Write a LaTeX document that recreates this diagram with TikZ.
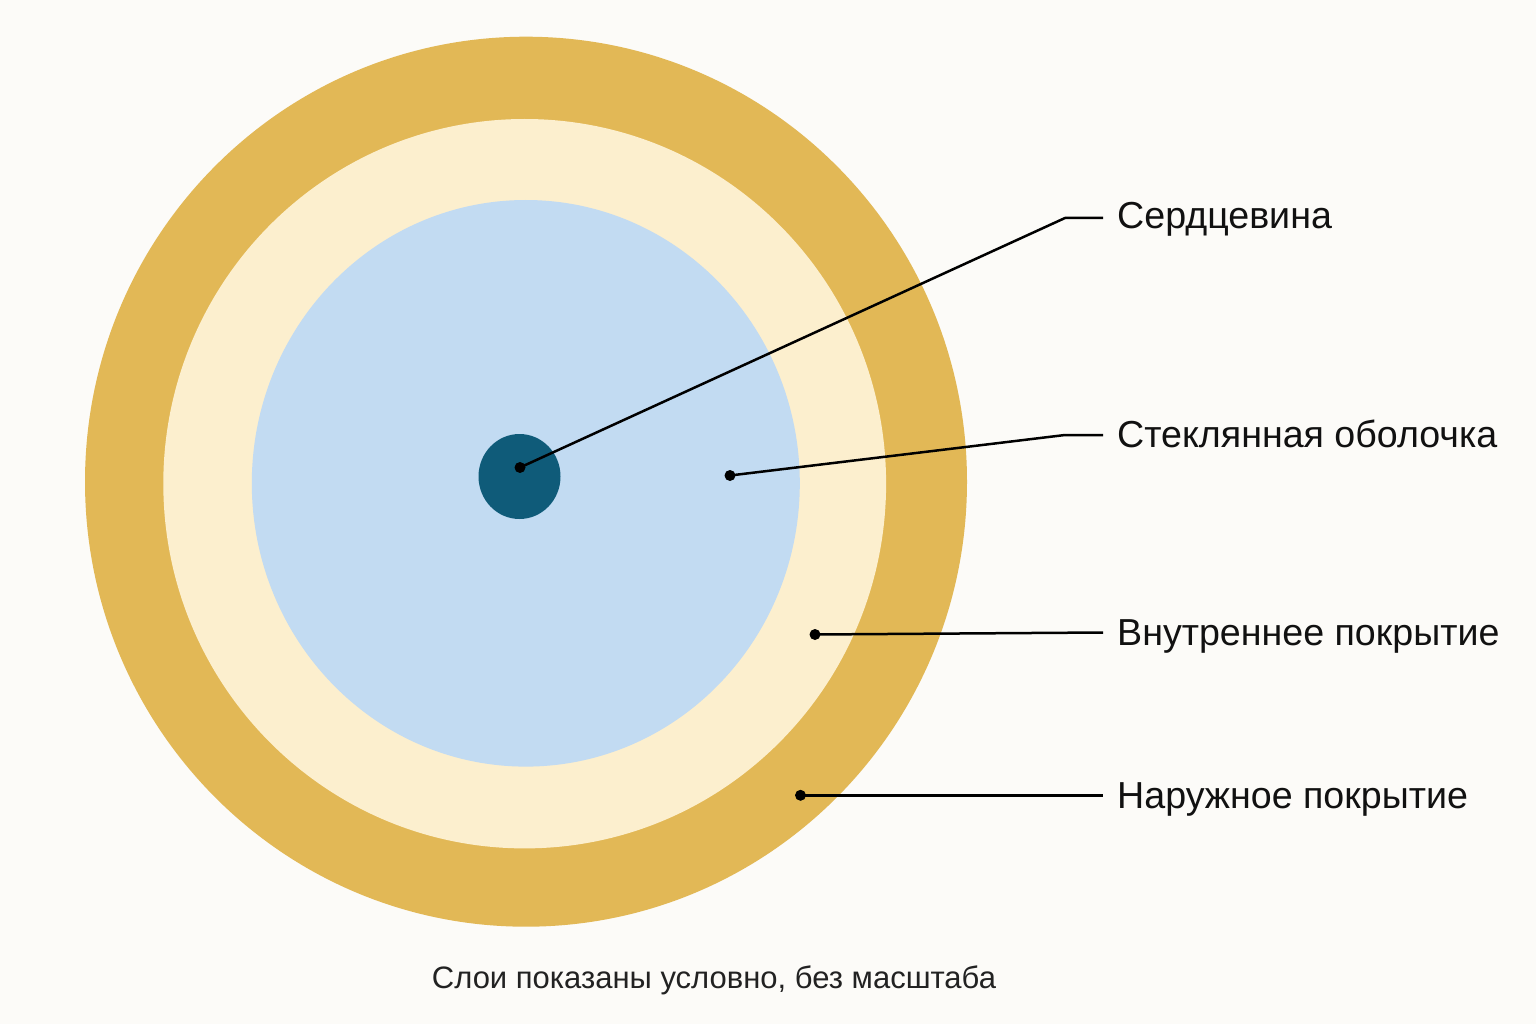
\documentclass[tikz,border=0pt]{standalone}
\usepackage{fontspec}
\setmainfont{Liberation Sans}
\definecolor{bgc}{HTML}{FCFBF8}
\definecolor{goldc}{HTML}{E2B856}
\definecolor{creamc}{HTML}{FCEFCE}
\definecolor{bluec}{HTML}{C2DBF2}
\definecolor{corec}{HTML}{0F5B79}
\definecolor{textc}{HTML}{111111}
\definecolor{capc}{HTML}{222222}
\tikzset{
  leader/.style={draw=black, line width=2.5pt, line join=round},
  dotmark/.style={fill=black},
  lbl/.style={anchor=base west, inner sep=0pt, text=textc, font=\fontsize{37.6}{44}\selectfont},
}
\begin{document}
\begin{tikzpicture}[x=1pt,y=-1pt]
\useasboundingbox (0,0) rectangle (1536,1024);
\fill[bgc] (0,0) rectangle (1536,1024);
% layers
\fill[goldc] (526,481.7) ellipse [x radius=441, y radius=445];
\fill[creamc] (524.7,483.7) ellipse [x radius=361.4, y radius=364.7];
\fill[bluec] (525.8,483.3) ellipse [x radius=274, y radius=283.3];
\fill[corec] (519.5,476.5) ellipse [x radius=41, y radius=42.5];
% anchor points
\coordinate (pcore) at (520,467.5);
\coordinate (pglass) at (730,475.5);
\coordinate (pinner) at (815,634.5);
\coordinate (pouter) at (800.5,795.3);
\coordinate (k1) at (1065,218);
\coordinate (k2) at (1065,435);
\coordinate (e1) at (1103,218);
\coordinate (e2) at (1103,435);
\coordinate (e3) at (1103,632.5);
\coordinate (e4) at (1103,795.3);
% leaders
\draw[leader] (pcore) -- (k1) -- (e1);
\draw[leader] (pglass) -- (k2) -- (e2);
\draw[leader] (pinner) -- (e3);
\draw[leader] (pouter) -- (e4);
\fill[dotmark] (pcore) circle (5.5);
\fill[dotmark] (pglass) circle (5.5);
\fill[dotmark] (pinner) circle (5.5);
\fill[dotmark] (pouter) circle (5.5);
% labels
\node[lbl] (l1) at (1117,229) {Сердцевина};
\node[lbl] (l2) at (1117,447) {Стеклянная оболочка};
\node[lbl] (l3) at (1117,645) {Внутреннее покрытие};
\node[lbl] (l4) at (1117,808) {Наружное покрытие};
% caption
\node[anchor=base, inner sep=0pt, text=capc, font=\fontsize{31}{36}\selectfont] (cap) at (714,988) {Слои показаны условно, без масштаба};
\end{tikzpicture}
\end{document}
